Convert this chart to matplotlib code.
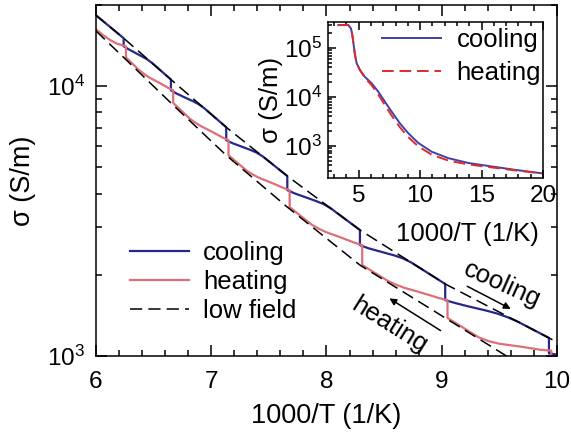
import matplotlib
matplotlib.use("Agg")
import matplotlib.pyplot as plt
from matplotlib.ticker import LogLocator, NullFormatter, MultipleLocator, FixedLocator

plt.rcParams["font.family"] = ["Liberation Sans", "DejaVu Sans"]
plt.rcParams["mathtext.fontset"] = "custom"
plt.rcParams["mathtext.rm"] = "Liberation Sans"
plt.rcParams["mathtext.it"] = "Liberation Sans:italic"
plt.rcParams["mathtext.bf"] = "Liberation Sans:bold"

# =========================
# MAIN PANEL DATA (1000/T in 1/K, sigma in S/m)
# =========================
cool_x = [6.00, 6.24, 6.24, 6.281, 6.322, 6.363, 6.404, 6.445, 6.486, 6.65,
          6.65, 6.698, 6.746, 6.794, 6.842, 6.890, 6.938, 7.13,
          7.13, 7.183, 7.236, 7.289, 7.342, 7.395, 7.448, 7.66,
          7.66, 7.723, 7.786, 7.849, 7.912, 7.975, 8.038, 8.29,
          8.29, 8.364, 8.438, 8.512, 8.586, 8.66, 8.734, 9.03,
          9.03, 9.12, 9.21, 9.30, 9.39, 9.48, 9.57, 9.66, 9.93,
          9.93, 10.0]
cool_s = [18320, 15070, 14060, 13720, 13430, 13140, 12860, 12570, 12200, 10590,
          9660, 9400, 9190, 8990, 8800, 8580, 8300, 7047,
          6310, 6153, 6034, 5917, 5802, 5671, 5489, 4645,
          4121, 4007, 3920, 3834, 3750, 3655, 3524, 2931,
          2576, 2508, 2458, 2409, 2361, 2304, 2223, 1849,
          1611, 1570, 1535, 1503, 1472, 1437, 1393, 1340, 1167,
          1023, 1012]

heat_x = [6.00, 6.06, 6.12, 6.18, 6.26,
          6.26, 6.383, 6.424, 6.465, 6.506, 6.547, 6.588, 6.629, 6.67,
          6.67, 6.814, 6.862, 6.91, 6.958, 7.006, 7.054, 7.102, 7.15,
          7.15, 7.309, 7.362, 7.415, 7.468, 7.521, 7.574, 7.627, 7.68,
          7.68, 7.869, 7.932, 7.995, 8.058, 8.121, 8.184, 8.247, 8.31,
          8.31, 8.532, 8.606, 8.68, 8.754, 8.828, 8.902, 8.976, 9.05,
          9.05, 9.32, 9.41, 9.50, 9.59, 9.68, 9.77, 9.86, 9.95,
          9.95, 10.0]
heat_s = [16260, 15490, 14860, 14390, 14060,
          12790, 11380, 11050, 10760, 10530, 10310, 10080, 9850, 9660,
          8670, 7581, 7325, 7115, 6947, 6781, 6611, 6445, 6310,
          5546, 4858, 4701, 4577, 4482, 4389, 4291, 4196, 4121,
          3565, 3073, 2965, 2880, 2816, 2754, 2689, 2626, 2576,
          2173, 1898, 1836, 1787, 1751, 1714, 1677, 1640, 1611,
          1384, 1173, 1134, 1110, 1097, 1084, 1069, 1054, 1047,
          794, 767]

# low field reference lines (upper = cooling branch, lower = heating branch)
lf_x = [6.0, 6.24, 6.65, 7.13, 7.66, 8.29, 9.03, 9.93, 10.0]
lf_hi_s = [18320, 15070, 10590, 7047, 4645, 2931, 1849, 1167, 1125]
lf_lo_s = [16030, 12790, 8670, 5546, 3565, 2173, 1384, 798, 767]

# =========================
# INSET DATA
# =========================
in_x = [3.34, 4.15, 4.37, 4.48, 4.59, 4.70, 4.83, 5.10, 5.51, 6.05, 6.59,
        7.14, 7.68, 8.36, 9.03, 9.85, 10.94, 12.29, 13.92, 15.82, 17.72, 19.9]
in_cool = [2.95e5, 2.95e5, 2.51e5, 1.86e5, 1.15e5, 7.24e4, 4.90e4, 3.55e4, 2.57e4,
           1.905e4, 1.288e4, 7940, 5010, 2880, 1820, 1148, 759, 562, 447, 380, 324, 275]
in_heat = [2.95e5, 2.95e5, 2.51e5, 1.86e5, 1.15e5, 7.24e4, 4.90e4, 3.55e4, 2.45e4,
           1.74e4, 1.12e4, 6760, 4170, 2400, 1510, 977, 661, 501, 417, 363, 316, 275]

blue = "#27278a"
pink = "#dc6f78"

fig = plt.figure(figsize=(5.71, 4.44), dpi=100)
ax = fig.add_axes([0.1681, 0.1982, 0.8074, 0.7905])

ax.plot(cool_x, cool_s, color=blue, lw=1.6, label="cooling", zorder=2)
ax.plot(heat_x, heat_s, color=pink, lw=1.6, label="heating", zorder=2)
ax.plot(lf_x, lf_hi_s, color="black", lw=1.1, dashes=(8, 4), label="low field", zorder=3)
ax.plot(lf_x, lf_lo_s, color="black", lw=1.1, dashes=(8, 4), zorder=3)

ax.set_yscale("log")
ax.set_xlim(6, 10)
ax.set_ylim(1e3, 2e4)
ax.xaxis.set_major_locator(MultipleLocator(1))
ax.xaxis.set_minor_locator(MultipleLocator(0.2))
ax.yaxis.set_major_locator(FixedLocator([1e3, 1e4]))
ax.yaxis.set_minor_locator(LogLocator(base=10, subs=range(2, 10)))
ax.yaxis.set_minor_formatter(NullFormatter())
ax.tick_params(which="both", direction="in", top=True, right=True, labelsize=17.5, width=1.1)
ax.tick_params(which="major", length=8)
ax.tick_params(which="minor", length=4)
ax.tick_params(axis="x", pad=11)
ax.tick_params(axis="y", pad=8)
for sp in ax.spines.values():
    sp.set_linewidth(1.1)
ax.set_xlabel("1000/T (1/K)", fontsize=19.5, labelpad=7)
ax.set_ylabel("σ (S/m)", fontsize=19.5, labelpad=8)

ax.legend(loc="upper left", bbox_to_anchor=(0.2277, 0.457), bbox_transform=fig.transFigure,
          frameon=False, borderpad=0, borderaxespad=0, handlelength=2.3,
          handletextpad=0.55, labelspacing=0.2, fontsize=18.5)

# arrows and labels
ax.text(9.52, 1833, "cooling", rotation=-24, ha="center", va="center", fontsize=18.5,
        rotation_mode="anchor")
ax.annotate("", xy=(9.62, 1479), xytext=(9.20, 1833),
            arrowprops=dict(arrowstyle="-|>", color="black", lw=1.1, mutation_scale=10))
ax.text(8.55, 1303, "heating", rotation=-32, ha="center", va="center", fontsize=18.5,
        rotation_mode="anchor")
ax.annotate("", xy=(8.525, 1656), xytext=(9.01, 1227),
            arrowprops=dict(arrowstyle="-|>", color="black", lw=1.1, mutation_scale=10))

# =========================
# INSET
# =========================
ax_in = fig.add_axes([0.5744, 0.599, 0.3765, 0.3514])
ax_in.plot(in_x, in_cool, color="#4040a8", lw=1.4, label="cooling")
ax_in.plot(in_x, in_heat, color="#e02a2a", lw=1.4, dashes=(6, 3), label="heating")
ax_in.set_yscale("log")
ax_in.set_xlim(2.5, 20)
ax_in.set_ylim(220, 3.4e5)
ax_in.xaxis.set_major_locator(FixedLocator([5, 10, 15, 20]))
ax_in.xaxis.set_minor_locator(MultipleLocator(1))
ax_in.yaxis.set_major_locator(FixedLocator([1e3, 1e4, 1e5]))
ax_in.yaxis.set_minor_locator(LogLocator(base=10, subs=range(2, 10)))
ax_in.yaxis.set_minor_formatter(NullFormatter())
ax_in.tick_params(which="both", direction="in", top=True, right=False, labelsize=17.5, width=1.1)
ax_in.tick_params(which="major", length=6)
ax_in.tick_params(which="minor", length=3)
ax_in.tick_params(axis="x", pad=5)
ax_in.tick_params(axis="y", pad=4)
for sp in ax_in.spines.values():
    sp.set_linewidth(1.1)
ax_in.set_xlabel("1000/T (1/K)", fontsize=18.5)
ax_in.xaxis.set_label_coords(0.65, -0.28)
ax_in.set_ylabel("σ (S/m)", fontsize=18.5, labelpad=1)
ax_in.legend(loc="upper left", bbox_to_anchor=(0.669, 0.937), bbox_transform=fig.transFigure,
             frameon=False, borderpad=0, borderaxespad=0, handlelength=2.3,
             handletextpad=0.6, labelspacing=0.35, fontsize=18.5)

fig.savefig("out.png", dpi=100)
